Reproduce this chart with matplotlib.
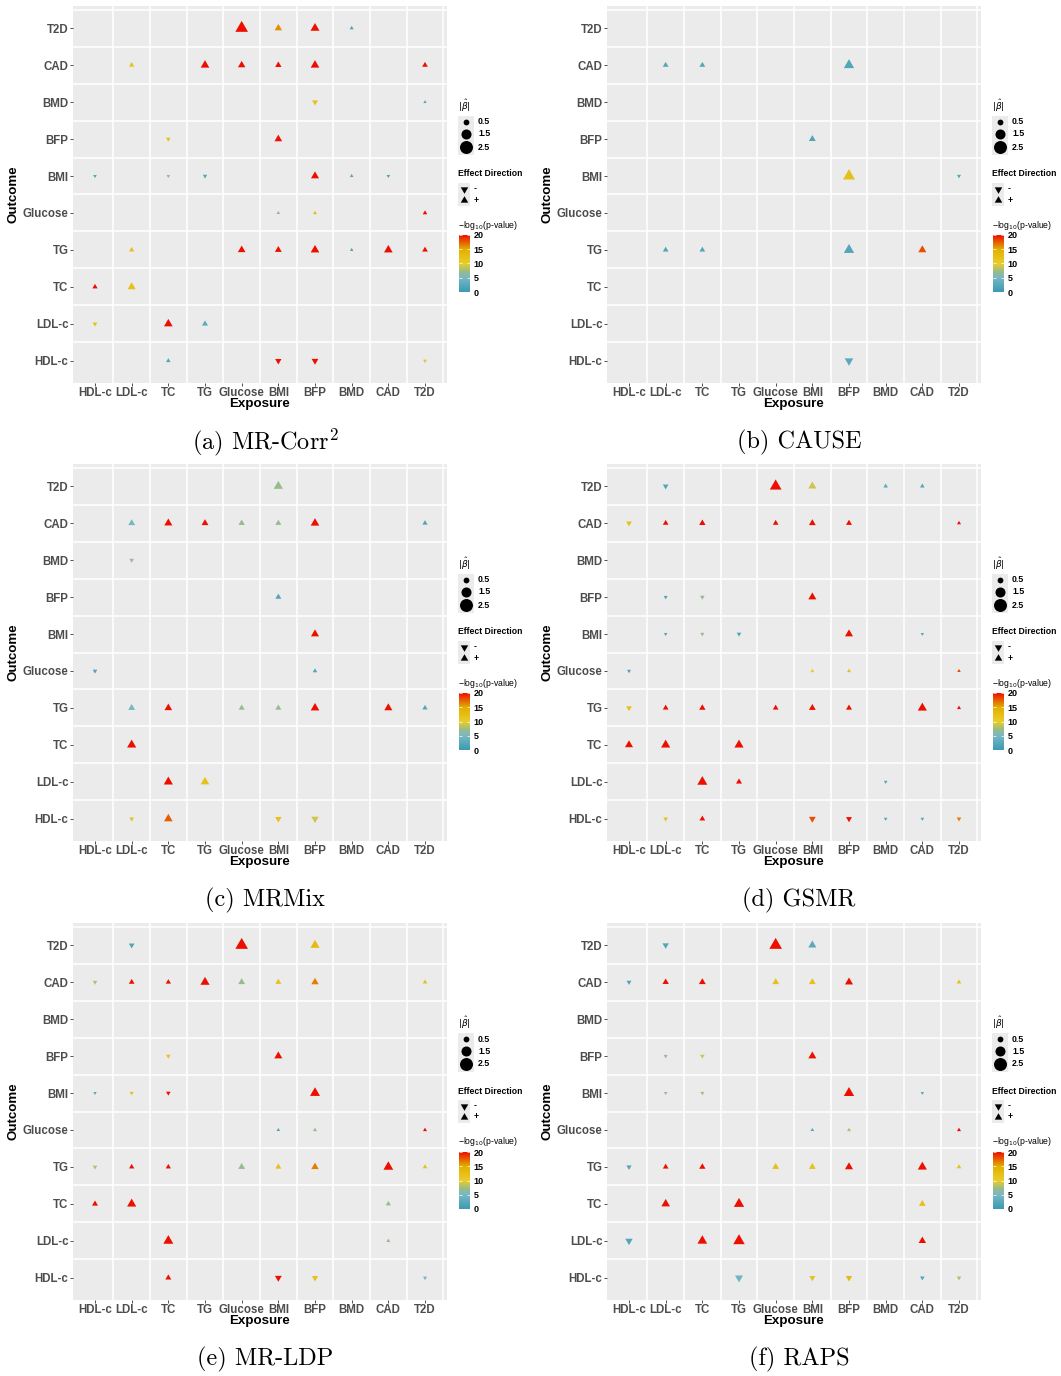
import numpy as np
import matplotlib
matplotlib.use('Agg')
import matplotlib.pyplot as plt
from matplotlib.colors import LinearSegmentedColormap, Normalize
from matplotlib.patches import Rectangle
from matplotlib import cm

plt.rcParams['font.family'] = ['Liberation Sans', 'DejaVu Sans']

# traits, same order on both axes (bottom -> top on y)
traits = ["HDL-c", "LDL-c", "TC", "TG", "Glucose", "BMI", "BFP", "BMD", "CAD", "T2D"]

# (exposure, outcome, beta, -log10 p capped at 20)
mr_corr = [
    ("Glucose", "T2D", 0.99, 20), ("BMI", "T2D", 0.34, 16), ("BFP", "T2D", 0.50, 20), ("BMD", "T2D", 0.10, 1.5),
    ("LDL-c", "CAD", 0.17, 12), ("TG", "CAD", 0.46, 20), ("Glucose", "CAD", 0.34, 20), ("BMI", "CAD", 0.25, 20),
    ("BFP", "CAD", 0.46, 20), ("T2D", "CAD", 0.20, 20),
    ("BFP", "BMD", -0.22, 12), ("T2D", "BMD", 0.07, 2),
    ("TC", "BFP", -0.13, 12), ("BMI", "BFP", 0.36, 20),
    ("HDL-c", "BMI", -0.08, 2), ("TC", "BMI", -0.08, 6.5), ("TG", "BMI", -0.12, 2), ("BFP", "BMI", 0.40, 20),
    ("BMD", "BMI", 0.08, 2), ("CAD", "BMI", -0.08, 2),
    ("BMI", "Glucose", 0.08, 6.5), ("BFP", "Glucose", 0.10, 12), ("T2D", "Glucose", 0.13, 20),
    ("LDL-c", "TG", 0.17, 12), ("Glucose", "TG", 0.36, 20), ("BMI", "TG", 0.29, 20), ("BFP", "TG", 0.46, 20),
    ("BMD", "TG", 0.08, 2), ("CAD", "TG", 0.46, 20), ("T2D", "TG", 0.20, 20),
    ("HDL-c", "TC", 0.17, 20), ("LDL-c", "TC", 0.40, 12),
    ("HDL-c", "LDL-c", -0.13, 12), ("TC", "LDL-c", 0.46, 20), ("TG", "LDL-c", 0.22, 2.5),
    ("TC", "HDL-c", 0.13, 2), ("BMI", "HDL-c", -0.25, 20), ("BFP", "HDL-c", -0.29, 20), ("T2D", "HDL-c", -0.10, 9.5),
]

cause = [
    ("LDL-c", "CAD", 0.20, 2), ("TC", "CAD", 0.20, 2), ("BFP", "CAD", 0.66, 2),
    ("BMI", "BFP", 0.29, 2),
    ("BFP", "BMI", 0.90, 12), ("T2D", "BMI", -0.10, 2),
    ("LDL-c", "TG", 0.20, 2), ("TC", "TG", 0.20, 2), ("BFP", "TG", 0.66, 2), ("CAD", "TG", 0.40, 18),
    ("BFP", "HDL-c", -0.46, 2.5),
]

mrmix = [
    ("BMI", "T2D", 0.52, 7),
    ("LDL-c", "CAD", 0.29, 5), ("TC", "CAD", 0.40, 20), ("TG", "CAD", 0.29, 20), ("Glucose", "CAD", 0.25, 7),
    ("BMI", "CAD", 0.22, 7), ("BFP", "CAD", 0.46, 20), ("T2D", "CAD", 0.17, 2),
    ("LDL-c", "BMD", -0.13, 7),
    ("BMI", "BFP", 0.22, 2),
    ("BFP", "BMI", 0.40, 20),
    ("HDL-c", "Glucose", -0.13, 2), ("BFP", "Glucose", 0.13, 2),
    ("LDL-c", "TG", 0.29, 5), ("TC", "TG", 0.36, 20), ("Glucose", "TG", 0.22, 7), ("BMI", "TG", 0.22, 7),
    ("BFP", "TG", 0.46, 20), ("CAD", "TG", 0.40, 20), ("T2D", "TG", 0.17, 2),
    ("LDL-c", "TC", 0.52, 20),
    ("TC", "LDL-c", 0.52, 20), ("TG", "LDL-c", 0.46, 12),
    ("LDL-c", "HDL-c", -0.13, 12), ("TC", "HDL-c", 0.46, 17.5), ("BMI", "HDL-c", -0.25, 12), ("BFP", "HDL-c", -0.34, 9),
]

gsmr = [
    ("LDL-c", "T2D", -0.20, 2), ("Glucose", "T2D", 0.85, 20), ("BMI", "T2D", 0.40, 9), ("BMD", "T2D", 0.13, 2.5),
    ("CAD", "T2D", 0.13, 2),
    ("HDL-c", "CAD", -0.20, 12), ("LDL-c", "CAD", 0.20, 20), ("TC", "CAD", 0.25, 20), ("Glucose", "CAD", 0.20, 20),
    ("BMI", "CAD", 0.29, 20), ("BFP", "CAD", 0.22, 20), ("T2D", "CAD", 0.10, 20),
    ("LDL-c", "BFP", -0.10, 2), ("TC", "BFP", -0.13, 7), ("BMI", "BFP", 0.40, 20),
    ("LDL-c", "BMI", -0.08, 2), ("TC", "BMI", -0.10, 7), ("TG", "BMI", -0.13, 2), ("BFP", "BMI", 0.40, 20),
    ("CAD", "BMI", -0.07, 2),
    ("HDL-c", "Glucose", -0.10, 2), ("BMI", "Glucose", 0.10, 10), ("BFP", "Glucose", 0.10, 12), ("T2D", "Glucose", 0.08, 18),
    ("HDL-c", "TG", -0.20, 12), ("LDL-c", "TG", 0.20, 20), ("TC", "TG", 0.25, 20), ("Glucose", "TG", 0.20, 20),
    ("BMI", "TG", 0.29, 20), ("BFP", "TG", 0.22, 20), ("CAD", "TG", 0.52, 20), ("T2D", "TG", 0.10, 20),
    ("HDL-c", "TC", 0.40, 20), ("LDL-c", "TC", 0.52, 20), ("TG", "TC", 0.52, 20),
    ("TC", "LDL-c", 0.62, 20), ("TG", "LDL-c", 0.22, 20), ("BMD", "LDL-c", -0.08, 2),
    ("LDL-c", "HDL-c", -0.13, 12), ("TC", "HDL-c", 0.20, 20), ("BMI", "HDL-c", -0.29, 18), ("BFP", "HDL-c", -0.22, 20),
    ("BMD", "HDL-c", -0.08, 2), ("CAD", "HDL-c", -0.08, 2), ("T2D", "HDL-c", -0.13, 16.5),
]

mr_ldp = [
    ("LDL-c", "T2D", -0.20, 2), ("Glucose", "T2D", 0.99, 20), ("BFP", "T2D", 0.52, 13),
    ("HDL-c", "CAD", -0.13, 8), ("LDL-c", "CAD", 0.20, 20), ("TC", "CAD", 0.17, 20), ("TG", "CAD", 0.52, 20),
    ("Glucose", "CAD", 0.29, 7), ("BMI", "CAD", 0.22, 12), ("BFP", "CAD", 0.34, 16.5), ("T2D", "CAD", 0.13, 12),
    ("TC", "BFP", -0.13, 12), ("BMI", "BFP", 0.40, 20),
    ("HDL-c", "BMI", -0.07, 2), ("LDL-c", "BMI", -0.10, 12), ("TC", "BMI", -0.13, 20), ("BFP", "BMI", 0.62, 20),
    ("BMI", "Glucose", 0.08, 2), ("BFP", "Glucose", 0.10, 7), ("T2D", "Glucose", 0.10, 20),
    ("HDL-c", "TG", -0.13, 8), ("LDL-c", "TG", 0.17, 20), ("TC", "TG", 0.17, 20), ("Glucose", "TG", 0.29, 7),
    ("BMI", "TG", 0.22, 12), ("BFP", "TG", 0.34, 16.5), ("CAD", "TG", 0.59, 20), ("T2D", "TG", 0.13, 12),
    ("HDL-c", "TC", 0.22, 20), ("LDL-c", "TC", 0.52, 20), ("CAD", "TC", 0.17, 7),
    ("TC", "LDL-c", 0.62, 20), ("CAD", "LDL-c", 0.10, 7),
    ("TC", "HDL-c", 0.22, 20), ("BMI", "HDL-c", -0.29, 20), ("BFP", "HDL-c", -0.25, 12), ("T2D", "HDL-c", -0.10, 4.5),
]

raps = [
    ("LDL-c", "T2D", -0.25, 2), ("Glucose", "T2D", 0.99, 20), ("BMI", "T2D", 0.40, 2.5),
    ("HDL-c", "CAD", -0.15, 2), ("LDL-c", "CAD", 0.25, 20), ("TC", "CAD", 0.29, 20), ("Glucose", "CAD", 0.29, 12),
    ("BMI", "CAD", 0.29, 12), ("BFP", "CAD", 0.40, 20), ("T2D", "CAD", 0.13, 12),
    ("LDL-c", "BFP", -0.10, 7), ("TC", "BFP", -0.13, 9), ("BMI", "BFP", 0.40, 20),
    ("LDL-c", "BMI", -0.08, 7), ("TC", "BMI", -0.10, 7.5), ("BFP", "BMI", 0.66, 20), ("CAD", "BMI", -0.07, 2),
    ("BMI", "Glucose", 0.08, 2), ("BFP", "Glucose", 0.10, 8), ("T2D", "Glucose", 0.10, 20),
    ("HDL-c", "TG", -0.17, 2), ("LDL-c", "TG", 0.20, 20), ("TC", "TG", 0.25, 20), ("Glucose", "TG", 0.29, 12),
    ("BMI", "TG", 0.29, 12), ("BFP", "TG", 0.40, 20), ("CAD", "TG", 0.52, 20), ("T2D", "TG", 0.13, 12),
    ("LDL-c", "TC", 0.46, 20), ("TG", "TC", 0.66, 20), ("CAD", "TC", 0.29, 12),
    ("HDL-c", "LDL-c", -0.34, 2), ("TC", "LDL-c", 0.59, 20), ("TG", "LDL-c", 0.82, 20), ("CAD", "LDL-c", 0.34, 20),
    ("TG", "HDL-c", -0.40, 4.5), ("BMI", "HDL-c", -0.22, 12), ("BFP", "HDL-c", -0.25, 13), ("CAD", "HDL-c", -0.13, 2),
    ("T2D", "HDL-c", -0.13, 8),
]

size_breaks = [0.5, 1.5, 2.5]
p_breaks = [0, 5, 10, 15, 20]

W, H, DPI = 1061, 1376, 100
fig = plt.figure(figsize=(W / DPI, H / DPI), dpi=DPI)
fig.patch.set_facecolor('white')

# whole-figure pixel canvas for legends and captions
bg = fig.add_axes([0, 0, 1, 1])
bg.set_xlim(0, W)
bg.set_ylim(H, 0)
bg.axis('off')

def px_axes(x0, y0, x1, y1):
    return fig.add_axes([x0 / W, 1 - y1 / H, (x1 - x0) / W, (y1 - y0) / H])

# blue -> green -> yellow -> red, roughly as a Lab-space gradient would run
cmap = LinearSegmentedColormap.from_list('zissou', [
    (0.0, "#3B9AB2"), (0.25, "#78B7C5"), (0.36, "#98BC86"),
    (0.5, "#EBCC2A"), (0.75, "#E1AF00"), (1.0, "#EE0E00")])
norm = Normalize(0, 20)

# ggplot-like triangles (pch 17), centred on circumcentre
tri_up = [(0, 1.5551), (1.3468, -0.7776), (-1.3468, -0.7776)]
tri_down = [(x, -y) for x, y in tri_up]

def circle_px(b):
    return 8.2 * np.sqrt(np.abs(b))

def s_circle(b):
    return (circle_px(b) * 72 / DPI) ** 2

def s_tri(b):
    w = 1.55 * circle_px(b)
    return (w * 72 / DPI / 0.866) ** 2

panels = [
    (mr_corr, '(a) MR-Corr$^2$', 73, 6),
    (cause, '(b) CAUSE', 607, 6),
    (mrmix, '(c) MRMix', 73, 464),
    (gsmr, '(d) GSMR', 607, 464),
    (mr_ldp, '(e) MR-LDP', 73, 923),
    (raps, '(f) RAPS', 607, 923),
]
PW, PH = 374, 377

for data, caption, px0, py0 in panels:
    px1, py1 = px0 + PW, py0 + PH
    ax = px_axes(px0, py0, px1, py1)
    ax.set_facecolor('#EBEBEB')
    for k in np.arange(1.5, 11, 1.0):
        ax.axvline(k, color='white', lw=1.1, zorder=1)
        ax.axhline(k, color='white', lw=1.1, zorder=1)
    ax.set_xlim(0.4, 10.6)
    ax.set_ylim(0.4, 10.6)
    for sp in ax.spines.values():
        sp.set_visible(False)

    xs = np.array([traits.index(r[0]) + 1 for r in data])
    ys = np.array([traits.index(r[1]) + 1 for r in data])
    beta = np.array([r[2] for r in data])
    logp = np.array([r[3] for r in data])
    up = beta > 0
    ax.scatter(xs[up], ys[up], s=s_tri(beta[up]), c=logp[up], cmap=cmap, norm=norm,
               marker=tri_up, linewidths=0, zorder=3)
    ax.scatter(xs[~up], ys[~up], s=s_tri(beta[~up]), c=logp[~up], cmap=cmap, norm=norm,
               marker=tri_down, linewidths=0, zorder=3)

    ax.set_xticks(range(1, 11))
    ax.set_yticks(range(1, 11))
    ax.set_xticklabels(traits, fontweight='bold')
    ax.set_yticklabels(traits, fontweight='bold')
    ax.tick_params(axis='x', length=2.0, width=0.6, color='#333333', pad=0.8,
                   labelsize=8.3, labelcolor='#4D4D4D')
    ax.tick_params(axis='y', length=2.2, width=0.6, color='#333333', pad=1.0,
                   labelsize=8.3, labelcolor='#4D4D4D')

    bg.text((px0 + px1) / 2, py1 + 21, 'Exposure', ha='center', va='center',
            fontsize=9.6, fontweight='bold', color='black')
    bg.text(px0 - 59.5, (py0 + py1) / 2, 'Outcome', ha='center', va='center',
            rotation=90, fontsize=9.6, fontweight='bold', color='black')

    # legends
    L = px1 + 11
    bg.text(L, py0 + 100, r'$|\hat{\beta}|$', ha='left', va='center', fontsize=6.5)
    bg.add_patch(Rectangle((L, py0 + 110), 15.5, 39, facecolor='#EBEBEB', edgecolor='none'))
    for b, dy in zip(size_breaks, [116, 128, 141]):
        bg.scatter([L + 7.7], [py0 + dy], s=s_circle(b), color='black', marker='o', linewidths=0)
        bg.text(L + 20, py0 + dy, str(b), ha='left', va='center', fontsize=6.3, fontweight='bold')

    bg.text(L, py0 + 168, 'Effect Direction', ha='left', va='center', fontsize=6.2, fontweight='bold')
    bg.add_patch(Rectangle((L, py0 + 177), 12, 23, facecolor='#EBEBEB', edgecolor='none'))
    for mk, lab, dy in [(tri_down, '-', 183), (tri_up, '+', 194)]:
        bg.scatter([L + 5.5], [py0 + dy], s=(7.5 * 72 / DPI / 0.866) ** 2, color='black',
                   marker=mk, linewidths=0)
        bg.text(L + 16, py0 + dy, lab, ha='left', va='center', fontsize=6.3, fontweight='bold')

    bg.text(L, py0 + 219, '\u2212log$_{10}$(p-value)', ha='left', va='center', fontsize=6.2)
    cax = px_axes(L + 1, py0 + 229, L + 11.5, py0 + 286)
    cb = fig.colorbar(cm.ScalarMappable(norm=norm, cmap=cmap), cax=cax, ticks=p_breaks)
    cb.outline.set_visible(False)
    cax.tick_params(direction='in', length=2, width=0.5, color='white',
                    left=True, right=True, labelsize=6.5, pad=3)
    for t in cax.get_yticklabels():
        t.set_fontweight('bold')

    bg.text((px0 + px1) / 2 + 5, py1 + 59, caption, ha='center', va='center',
            fontsize=17.5, fontfamily='cmr10', math_fontfamily='cm')

fig.savefig('out.png', dpi=DPI)
